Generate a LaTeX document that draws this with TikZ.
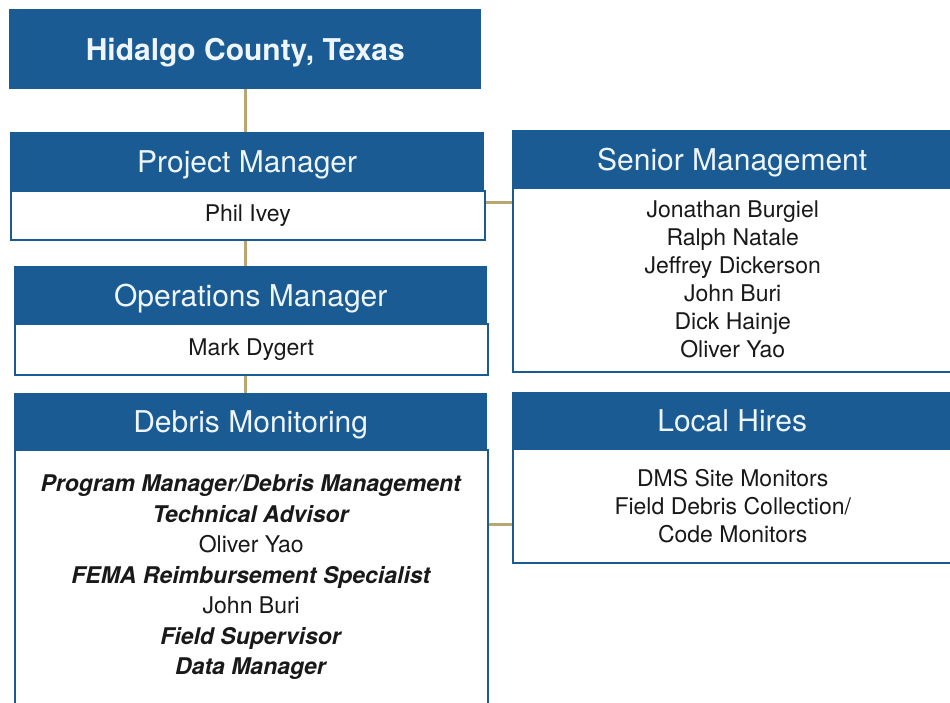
\documentclass[tikz,border=0pt]{standalone}
\usepackage{fontspec}
\setmainfont{TeX Gyre Heros}
\usetikzlibrary{calc}
\definecolor{hdblue}{RGB}{26,91,148}
\definecolor{hdtext}{RGB}{238,245,252}
\definecolor{linktan}{RGB}{186,166,112}
\definecolor{bodytext}{RGB}{25,25,25}
\newcommand{\role}[1]{\textbf{\textit{#1}}}
\tikzset{
  headbox/.style={fill=hdblue, text=hdtext, anchor=north west, inner sep=0pt, align=center, text height=30pt, text depth=6.5pt, font=\fontsize{30}{36}\selectfont},
  bodybox/.style={draw=hdblue, line width=1.5pt, fill=white, text=bodytext, anchor=north west, inner sep=0pt, align=center, font=\fontsize{23}{28}\selectfont},
  link/.style={draw=linktan, line width=3pt}
}

\begin{document}
\begin{tikzpicture}[x=1pt, y=-1pt]
	%%%%% FRAME %%%%%
	\useasboundingbox (0,0) rectangle (950,702);
	
	\node[headbox, font=\bfseries\fontsize{30}{36}\selectfont, minimum width=472pt, minimum height=80pt] (county) at (9,9) {Hidalgo County, Texas};
	
	%%%%% LEFT COLUMN %%%%%
	\node[bodybox, minimum width=474pt, minimum height=49pt] (pmbody) at (10,190) {Phil Ivey};
	\node[headbox, minimum width=474pt, minimum height=58pt] (pmhead) at (10,132) {Project Manager};
	
	\node[bodybox, minimum width=473pt, minimum height=51pt] (ombody) at (14,323) {Mark Dygert};
	\node[headbox, minimum width=473pt, minimum height=57pt] (omhead) at (14,266) {Operations Manager};
	
	\node[bodybox, font=\fontsize{23}{30.5}\selectfont, minimum width=473pt, minimum height=255pt] (dmbody) at (14,449) {\role{Program Manager/Debris Management}\\ \role{Technical Advisor}\\ Oliver Yao\\ \role{FEMA Reimbursement Specialist}\\ John Buri\\ \role{Field Supervisor}\\ \role{Data Manager}};
	\node[headbox, minimum width=473pt, minimum height=56pt] (dmhead) at (14,393) {Debris Monitoring};
	
	%%%%% RIGHT COLUMN %%%%%
	\node[bodybox, minimum width=440pt, minimum height=184pt] (senbody) at (512,187) {Jonathan Burgiel\\ Ralph Natale\\ Jeffrey Dickerson\\ John Buri\\ Dick Hainje\\ Oliver Yao};
	\node[headbox, minimum width=440pt, minimum height=57pt] (senhead) at (512,130) {Senior Management};
	
	\node[bodybox, minimum width=440pt, minimum height=114pt] (lhbody) at (512,448) {DMS Site Monitors\\ Field Debris Collection/\\ Code Monitors};
	\node[headbox, minimum width=440pt, minimum height=56pt] (lhhead) at (512,392) {Local Hires};
	
	%%%%% LINKS %%%%%
	\draw[link] (county.south) -- (county.south |- pmhead.north);
	\draw[link] (county.south |- pmbody.south) -- (county.south |- omhead.north);
	\draw[link] (county.south |- ombody.south) -- (county.south |- dmhead.north);
	\draw[link] ($(pmbody.east)+(0,-12.5)$) coordinate (pmlink) -- (pmlink -| senbody.west);
	\draw[link] ($(dmbody.east)+(0,-53)$) coordinate (dmlink) -- (dmlink -| lhbody.west);
	
\end{tikzpicture}
\end{document}
